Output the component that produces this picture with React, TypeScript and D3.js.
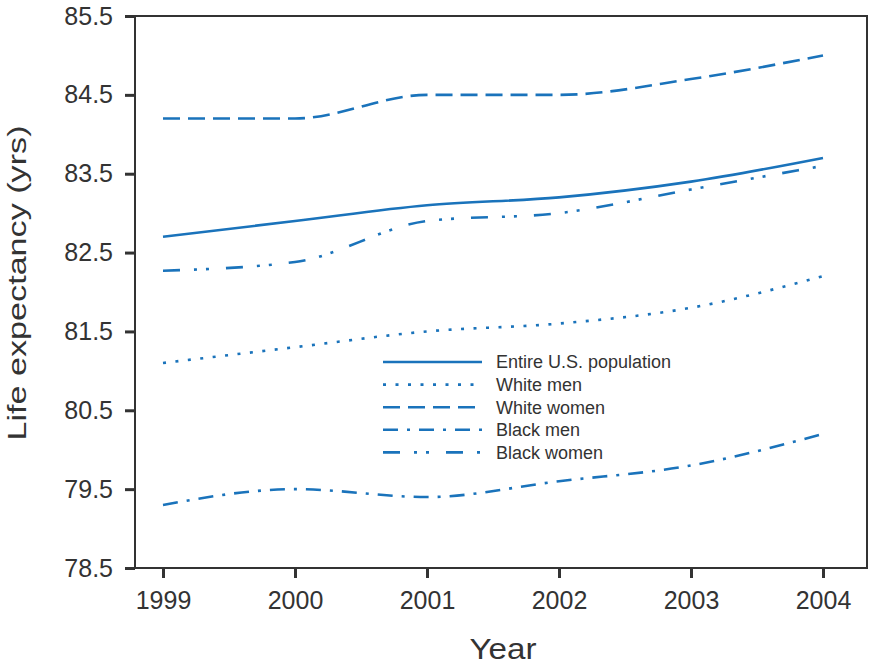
import { useRef, useEffect } from "react";
import * as d3 from "d3";

const years = [1999, 2000, 2001, 2002, 2003, 2004];
const entirePop = [82.7, 82.9, 83.1, 83.2, 83.4, 83.7];
const whiteMen = [81.1, 81.3, 81.5, 81.6, 81.8, 82.2];
const whiteWomen = [84.2, 84.2, 84.5, 84.5, 84.7, 85.0];
const blackMen = [79.3, 79.5, 79.4, 79.6, 79.8, 80.2];
const blackWomen = [82.27, 82.38, 82.9, 83.0, 83.3, 83.6];
const yTicks = [78.5, 79.5, 80.5, 81.5, 82.5, 83.5, 84.5, 85.5];

const seriesNames = ["Entire U.S. population", "White men", "White women", "Black men", "Black women"];
const seriesValues = [entirePop, whiteMen, whiteWomen, blackMen, blackWomen];
const dashes = ["none", "3,9.5", "17,8", "15,9,3,9", "17,14,3,9,3,17"];

const W = 869, H = 665;
const margin = { top: 16, right: 2, bottom: 97, left: 135 };
const BLUE = "#1a73bb";
const AXIS = "#333";
const FONT = "Liberation Sans, Arial, sans-serif";

export default function App() {
  const ref = useRef<SVGSVGElement>(null);

  useEffect(() => {
    const svg = d3.select(ref.current);
    svg.selectAll("*").remove();
    const iw = W - margin.left - margin.right;
    const ih = H - margin.top - margin.bottom;
    const g = svg.append("g").attr("transform", `translate(${margin.left},${margin.top})`);

    const x = d3.scaleLinear().domain([1999 - 28 / 132, 2004 + 44 / 132]).range([0, iw]);
    const y = d3.scaleLinear().domain([78.5, 85.5]).range([ih, 0]);

    // frame
    g.append("rect").attr("x", 0).attr("y", 0).attr("width", iw).attr("height", ih)
      .attr("fill", "none").attr("stroke", AXIS).attr("stroke-width", 2);

    // y axis
    const ya = g.append("g").call(d3.axisLeft(y).tickValues(yTicks).tickFormat(d3.format(".1f")).tickSize(10).tickPadding(12));
    ya.select(".domain").remove();
    ya.selectAll("line").attr("stroke", AXIS).attr("stroke-width", 3);
    ya.selectAll("text").attr("fill", "#333").style("font-size", "25px").style("font-family", FONT);

    // x axis
    const xa = g.append("g").attr("transform", `translate(0,${ih})`)
      .call(d3.axisBottom(x).tickValues(years).tickFormat(d3.format("d")).tickSize(10).tickPadding(13));
    xa.select(".domain").remove();
    xa.selectAll("line").attr("stroke", AXIS).attr("stroke-width", 3);
    xa.selectAll("text").attr("fill", "#333").style("font-size", "25px").style("font-family", FONT);

    // labels
    svg.append("text").attr("x", 503).attr("y", 659).attr("text-anchor", "middle")
      .attr("fill", "#333").style("font-size", "29px").style("font-family", FONT)
      .attr("textLength", 67).attr("lengthAdjust", "spacingAndGlyphs").text("Year");
    svg.append("text").attr("transform", `translate(26,283) rotate(-90)`).attr("text-anchor", "middle")
      .attr("fill", "#333").style("font-size", "25px").style("font-family", FONT)
      .attr("textLength", 315).attr("lengthAdjust", "spacingAndGlyphs").text("Life expectancy (yrs)");

    // lines
    const line = d3.line<number>().x((_, i) => x(years[i])).y(v => y(v)).curve(d3.curveMonotoneX);
    seriesValues.forEach((vals, i) => {
      g.append("path").attr("d", line(vals)).attr("fill", "none").attr("stroke", BLUE)
        .attr("stroke-width", 2.6).attr("stroke-dasharray", dashes[i]);
    });

    // legend
    const lg = svg.append("g").attr("transform", "translate(383,362)");
    seriesNames.forEach((name, i) => {
      const yy = i * 22.6;
      lg.append("line").attr("x1", 0).attr("x2", 99).attr("y1", yy).attr("y2", yy)
        .attr("stroke", BLUE).attr("stroke-width", 2.6).attr("stroke-dasharray", dashes[i]);
      lg.append("text").attr("x", 113).attr("y", yy).attr("dy", "0.35em").attr("fill", "#333")
        .style("font-size", "18px").style("font-family", FONT).text(name);
    });
  }, []);

  return <svg ref={ref} width={W} height={H} style={{ position: "absolute", left: 0, top: 0, background: "#fff" }} />;
}
